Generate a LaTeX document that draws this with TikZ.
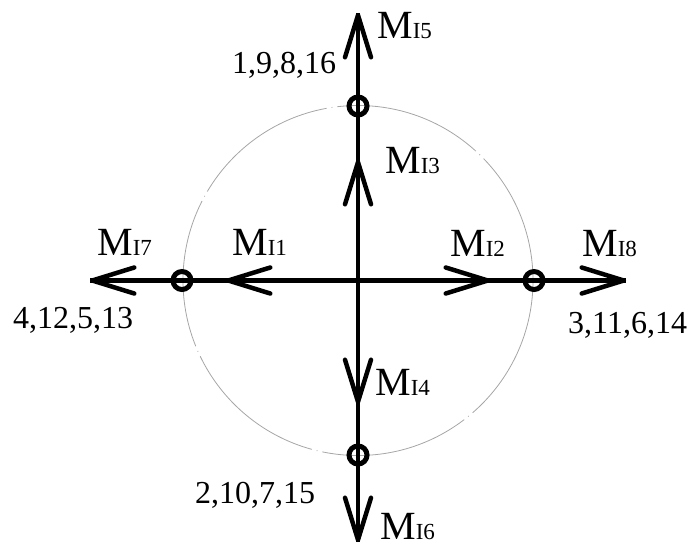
\documentclass[tikz,border=0pt]{standalone}
\usepackage{fontspec}
\setmainfont{Liberation Serif}
\usetikzlibrary{arrows.meta}
\newcommand{\Mlab}[1]{{\fontsize{40}{44}\selectfont M}{\fontsize{23}{26}\selectfont #1}}
\tikzset{
  axis/.style={line width=4.5pt},
  barb/.style={-{Straight Barb[length=42pt,width=26pt,line width=4.5pt,round]}, line width=4.5pt},
  marker/.style={circle, draw, line width=5pt, minimum size=18pt, inner sep=0pt},
  lab/.style={anchor=base west, inner sep=0pt},
  num/.style={anchor=base west, inner sep=0pt, font=\fontsize{32}{36}\selectfont},
  guide/.style={gray!70, line width=0.8pt, dash pattern=on 150pt off 5pt on 0.8pt off 5pt}
}
\begin{document}
\begin{tikzpicture}[x=1pt,y=-1pt]
\useasboundingbox (0,0) rectangle (696,547);
\coordinate (O) at (358,280.5);
\draw[guide] (O) circle[radius=175];
% end points
\coordinate (T) at (358,13);
\coordinate (B) at (358,542);
\coordinate (L) at (90,280.5);
\coordinate (R) at (626,280.5);
% mid tips
\coordinate (t3) at (358,160);
\coordinate (t4) at (358,404);
\coordinate (t1) at (226,280.5);
\coordinate (t2) at (490,280.5);
% axes
\draw[axis] (O) -- (T);
\draw[axis] (O) -- (B);
\draw[axis] (O) -- (L);
\draw[axis] (O) -- (R);
\draw[barb] (O) -- (T);
\draw[barb] (O) -- (B);
\draw[barb] (O) -- (L);
\draw[barb] (O) -- (R);
\draw[barb] (O) -- (t3);
\draw[barb] (O) -- (t4);
\draw[barb] (O) -- (t1);
\draw[barb] (O) -- (t2);
% markers
\node[marker] (m1) at (358,106) {};
\node[marker] (m2) at (358,455) {};
\node[marker] (m3) at (182,280.5) {};
\node[marker] (m4) at (534,280.5) {};
% labels
\node[lab] (l5) at (377,38) {\Mlab{I5}};
\node[lab] (l3) at (385,173) {\Mlab{I3}};
\node[lab] (l1) at (232,255) {\Mlab{I1}};
\node[lab] (l7) at (97,255) {\Mlab{I7}};
\node[lab] (l2) at (450,256) {\Mlab{I2}};
\node[lab] (l8) at (582,256) {\Mlab{I8}};
\node[lab] (l4) at (375,395) {\Mlab{I4}};
\node[lab] (l6) at (380,539) {\Mlab{I6}};
\node[num] (n1) at (232,73) {1,9,8,16};
\node[num] (n2) at (13,328) {4,12,5,13};
\node[num] (n3) at (568,333) {3,11,6,14};
\node[num] (n4) at (195,503) {2,10,7,15};
\end{tikzpicture}
\end{document}
